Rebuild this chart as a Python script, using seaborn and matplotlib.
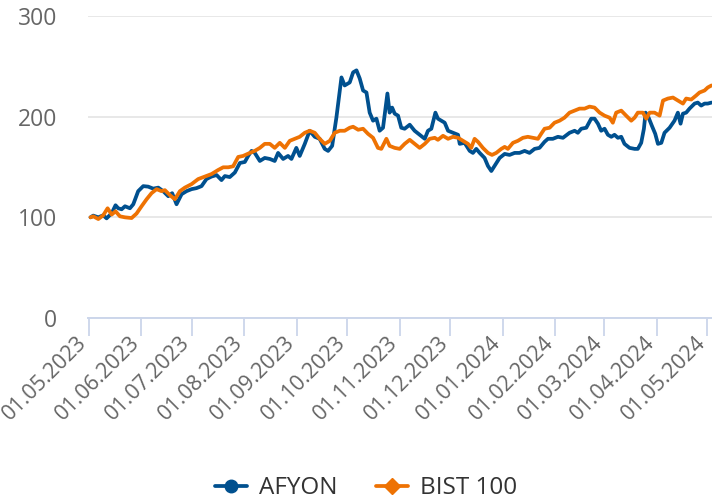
import numpy as np
import pandas as pd
import matplotlib
matplotlib.use("Agg")
import matplotlib.pyplot as plt
import matplotlib.transforms as mtransforms
from matplotlib.lines import Line2D
import seaborn as sns

# ---- data ----
start_date = "2023-05-01"

afyon_days = [1, 2.6, 5.6, 8.5, 10.5, 13.5, 15.8, 17.4, 19.4, 21.4, 24.3, 26.3, 29.2, 32.2, 35.1,
              38.1, 41.1, 44.0, 47.0, 49.3, 51.9, 54.9, 57.8, 60.8, 63.7, 66.7, 69.6, 72.6, 75.6,
              78.5, 80.5, 83.4, 86.4, 89.4, 92.3,
              94.3, 96.3, 98.2, 101.2, 104.1, 107.1, 110.0, 112.0, 115.0, 117.9, 119.9, 122.8,
              124.8, 127.8, 130.7, 133.7, 136.6, 139.6, 141.6, 144.0, 146.5, 149.5, 151.4, 154.4,
              156.4, 158.4, 160.3, 162.3, 164.3, 166.2, 168.2, 170.2, 172.1, 174.1, 176.7, 178.0,
              179.5, 181.0, 183.0, 184.9, 186.9,
              189.9, 192.8, 195.8, 198.8, 200.7, 202.7, 205.1, 206.6, 208.6, 210.6, 212.6, 215.5,
              218.5, 219.5, 222.4, 225.4, 227.3, 229.3, 231.3, 234.2, 236.2, 238.2, 240.1, 243.1,
              246.1, 249.0, 252.0, 254.9, 257.9, 260.8, 263.8, 266.7, 269.7, 271.7, 274.6, 277.6,
              280.6,
              284.5, 287.5, 289.4, 291.4, 294.4, 297.3, 299.3, 301.3, 303.2, 305.2, 307.2, 309.2,
              311.1, 313.1, 315.1, 317.0, 320.0, 323.0, 324.9, 326.9, 328.5, 329.5, 331.3, 333.2,
              335.2, 336.8, 338.8, 340.7, 343.7, 346.6, 348.6, 350.2, 351.6, 353.5, 355.5, 358.5,
              360.4, 362.4, 364.4, 366.3, 368.5]
afyon_vals = [100, 101.7, 100, 102, 99, 104, 112, 109, 108, 111, 109, 113, 126, 131, 130.5,
              128.5, 129.5, 126, 121, 124, 113, 123, 126, 128, 129, 131, 138, 140.5, 142,
              137, 141, 140, 144.5, 154, 155,
              161, 166, 164, 156, 159, 158, 156, 164, 158, 161, 158, 169,
              161, 173, 186, 180, 178, 168, 166, 171, 199, 239, 231, 234,
              244, 246, 238, 226, 224, 204, 196, 198, 186, 189, 223, 204,
              209, 203, 201, 189, 188,
              192, 186, 182, 178, 186, 188, 204, 198, 196, 194, 186, 184,
              182, 173, 174, 166, 164, 168, 164, 159, 151, 146, 151, 159,
              163, 162, 164, 164, 166, 164, 168, 169, 175, 178, 178, 180,
              179,
              184, 186, 184, 188, 189, 198, 198, 193, 186, 188, 182, 180,
              182, 179, 180, 173, 169, 168, 168, 174, 188, 204, 199, 191,
              183, 173, 174, 184, 189, 196, 204, 193, 203, 204, 208, 213,
              214, 211, 213, 213, 214]

bist_days = [1, 2.6, 5.6, 8.5, 11.1, 13.5, 15.8, 18.4, 21.4, 25.3, 28.2, 31.2, 34.2, 37.1, 40.1,
             43.0, 45.0, 48.0, 50.9, 53.9, 56.8, 60.8, 64.7, 68.7, 72.6, 76.5, 79.5, 82.5, 85.4,
             88.4, 91.3,
             95.3, 98.2, 101.2, 104.1, 107.1, 110.0, 113.0, 116.0, 118.9, 121.9, 124.8, 127.8,
             130.7, 133.7, 136.6, 139.6, 142.6, 145.5, 148.5, 151.4, 154.4, 156.4, 159.4, 162.3,
             165.2, 168.2, 171.1, 173.1, 176.1, 178.0, 181.0, 184.0, 186.9, 189.9,
             192.8, 195.8, 198.8, 201.7, 204.7, 206.6, 209.6, 212.6, 215.5, 218.5, 221.4, 224.4,
             226.3, 228.3, 230.3, 233.2, 236.2, 238.6, 241.1, 244.1, 246.1, 248.0, 251.0, 253.9,
             256.9, 259.8, 262.8, 265.8, 267.7, 269.7, 272.7, 275.6, 278.6, 281.5, 284.5,
             287.5, 290.4, 293.4, 296.3, 299.3, 302.3, 305.2, 308.2, 310.1, 312.1, 315.1, 318.0,
             321.0, 323.0, 324.9, 327.9, 329.9, 331.9, 334.8, 337.8, 339.8, 342.7, 345.7, 348.6,
             351.6, 353.5, 356.5, 359.4, 361.4, 364.4, 366.3, 368.5]
bist_vals = [100, 101, 98.3, 102, 109, 102.7, 106, 101, 100, 99.3, 103.7, 111, 118, 124, 128,
             126, 127, 122, 118, 126, 129.5, 133, 138, 140.5, 143, 147, 149.7, 149.7, 150.7,
             160, 161,
             164, 166, 169, 173, 173, 169, 174, 169, 176, 178, 180, 184,
             186, 184, 178, 173, 176, 184, 186, 186, 189, 190, 187, 188,
             183, 179, 169, 168, 178, 171, 169, 168, 173, 177,
             173, 169, 173, 178, 179, 177, 181, 178, 180, 179, 176, 173,
             169, 178, 175, 169, 164, 162, 164, 168, 170, 168, 174, 176,
             179, 180, 179, 178, 183, 188, 189, 194, 196, 199, 204,
             206, 208, 208, 210, 209, 204, 201, 199, 194, 204, 206, 201,
             196, 199, 204, 204, 198, 204, 204, 201, 216, 218, 219, 216,
             213, 218, 217, 221, 224, 226, 229, 231]

series_names = ["AFYON", "BIST 100"]
series_colors = ["#00508f", "#ee7203"]
series_markers = ["o", "D"]
y_ticks = [0, 100, 200, 300]

# ---- build frame ----
t0 = pd.Timestamp(start_date)
df = pd.concat([
    pd.DataFrame({"date": t0 + pd.to_timedelta(afyon_days, unit="D"),
                  "value": afyon_vals, "series": series_names[0]}),
    pd.DataFrame({"date": t0 + pd.to_timedelta(bist_days, unit="D"),
                  "value": bist_vals, "series": series_names[1]}),
], ignore_index=True)

sns.set_style("white")
plt.rcParams["font.family"] = ["Open Sans", "DejaVu Sans"]

fig = plt.figure(figsize=(7.12, 4.99), dpi=100)
ax = fig.add_axes([88 / 712, 1 - 318 / 499, 1 - 88 / 712, (318 - 16) / 499])

palette = dict(zip(series_names, series_colors))
sns.lineplot(data=df, x="date", y="value", hue="series", palette=palette,
             linewidth=2.7, legend=False, ax=ax, sort=True, estimator=None)

ax.set_xlim(t0 - pd.Timedelta(days=0.5), t0 + pd.Timedelta(days=368.8))
ax.set_ylim(0, 300)
ax.set_yticks(y_ticks)
ax.set_xlabel("")
ax.set_ylabel("")

months = pd.date_range("2023-05-01", "2024-05-01", freq="MS")
ax.set_xticks(months)
ax.set_xticklabels([m.strftime("%d.%m.%Y") for m in months])

ax.yaxis.grid(True, color="#e6e6e6", linewidth=1.3)
ax.xaxis.grid(False)
for s in ["top", "right", "left"]:
    ax.spines[s].set_visible(False)
ax.spines["bottom"].set_color("#ccd6eb")
ax.spines["bottom"].set_linewidth(1.4)

ax.tick_params(axis="x", direction="out", length=13, width=1.3, color="#ccd6eb",
               labelsize=15.5, labelcolor="#666666", pad=2, bottom=True)
ax.tick_params(axis="y", length=0, labelsize=16.5, labelcolor="#666666", pad=22)
shift = mtransforms.ScaledTranslation(-5 / 100, -1 / 100, fig.dpi_scale_trans)
for lab in ax.get_xticklabels():
    lab.set_rotation(45)
    lab.set_ha("right")
    lab.set_va("center")
    lab.set_rotation_mode("anchor")
    lab.set_transform(lab.get_transform() + shift)

handles = [Line2D([0], [0], color=c, lw=2.7, marker=m, markersize=9 if m == "o" else 8)
           for c, m in zip(series_colors, series_markers)]
leg = fig.legend(handles, series_names, loc="center", bbox_to_anchor=(0.514, 0.022),
                 ncol=2, frameon=False, fontsize=17.5, handlelength=1.3,
                 handletextpad=0.5, columnspacing=1.6, borderpad=0)
for t in leg.get_texts():
    t.set_color("#333333")

fig.savefig("out.png", dpi=100)
